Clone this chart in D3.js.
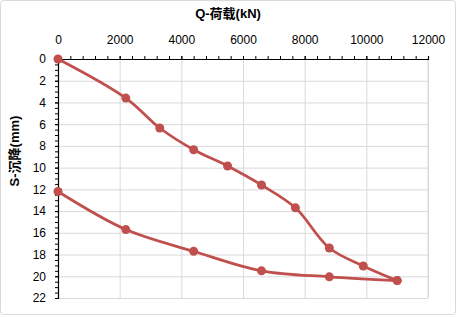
<!DOCTYPE html>
<html>
<head>
<meta charset="utf-8">
<script src="https://cdn.jsdelivr.net/npm/d3@7"></script>
<style>
  body { margin: 0; background: #fff; }
  text { font-family: "Liberation Sans", Arial, "Noto Sans CJK SC", sans-serif; }
  .grid line { stroke: #d9d9d9; stroke-width: 1; }
  .grid path { display: none; }
</style>
</head>
<body>
<div id="chart"></div>
<script>
// load / settlement data (loading and unloading branches)
var loadQ = [0, 2200, 3300, 4400, 5500, 6600, 7700, 8800, 9900, 11000];
var loadS = [0, 3.6, 6.35, 8.35, 9.85, 11.6, 13.7, 17.4, 19.05, 20.4];
var unloadQ = [11000, 8800, 6600, 4400, 2200, 0];
var unloadS = [20.4, 20.05, 19.5, 17.7, 15.7, 12.2];
var xTicks = [0, 2000, 4000, 6000, 8000, 10000, 12000];
var yTicks = [0, 2, 4, 6, 8, 10, 12, 14, 16, 18, 20, 22];

var w = 457, h = 317;
var padLeft = 58, padTop = 59, pw = 370, ph = 239;
var color = "#c0504d";

var xScale = d3.scaleLinear().domain([0, 12000]).range([padLeft, padLeft + pw]);
var yScale = d3.scaleLinear().domain([0, 22]).range([padTop, padTop + ph]);

var svg = d3.select("#chart").append("svg")
    .attr("width", w).attr("height", h);

// outer border
svg.append("rect")
    .attr("x", 0.5).attr("y", 0.5)
    .attr("width", w - 2).attr("height", h - 3)
    .attr("rx", 3)
    .attr("fill", "#fff")
    .attr("stroke", "#d9d9d9");

// gridlines
svg.append("g").attr("class", "grid")
    .attr("transform", "translate(0," + (padTop + ph) + ")")
    .call(d3.axisBottom(xScale).tickValues(xTicks).tickSize(-ph).tickFormat(""));
svg.append("g").attr("class", "grid")
    .attr("transform", "translate(" + (padLeft + pw) + ",0)")
    .call(d3.axisRight(yScale).tickValues(yTicks).tickSize(-pw).tickFormat(""));
svg.append("line")
    .attr("x1", padLeft + pw).attr("x2", padLeft + pw)
    .attr("y1", padTop).attr("y2", padTop + ph)
    .attr("stroke", "#d9d9d9");

// minor ticks
svg.append("g")
    .attr("transform", "translate(0," + padTop + ")")
    .call(d3.axisTop(xScale).tickValues(d3.range(0, 12001, 400)).tickSize(3).tickFormat(""))
    .call(function(g) { g.selectAll("line,path").attr("stroke", "#000"); });
svg.append("g")
    .attr("transform", "translate(" + padLeft + ",0)")
    .call(d3.axisLeft(yScale).tickValues(d3.range(0, 22.01, 0.5)).tickSize(3).tickFormat(""))
    .call(function(g) { g.selectAll("line,path").attr("stroke", "#000"); });

// x axis (top)
var xAxis = svg.append("g")
    .attr("transform", "translate(0," + padTop + ")")
    .call(d3.axisTop(xScale).tickValues(xTicks).tickSize(3).tickPadding(12).tickFormat(d3.format("d")));
xAxis.select(".domain").attr("stroke", "#000").attr("stroke-width", 1.2);
xAxis.selectAll("line").attr("stroke", "#000");
xAxis.selectAll("text").attr("font-size", 12).attr("fill", "#000")
    .style("font-family", "Liberation Sans, Arial, sans-serif");

// y axis (left)
var yAxis = svg.append("g")
    .attr("transform", "translate(" + padLeft + ",0)")
    .call(d3.axisLeft(yScale).tickValues(yTicks).tickSize(3).tickPadding(9));
yAxis.select(".domain").attr("stroke", "#000").attr("stroke-width", 1.2);
yAxis.selectAll("line").attr("stroke", "#000");
yAxis.selectAll("text").attr("font-size", 12).attr("fill", "#000")
    .style("font-family", "Liberation Sans, Arial, sans-serif");

// axis titles
svg.append("text")
    .attr("x", 228).attr("y", 18)
    .attr("text-anchor", "middle")
    .attr("font-size", 13).attr("font-weight", "bold")
    .text("Q-荷载(kN)");
svg.append("text")
    .attr("transform", "translate(19," + 151 + ") rotate(-90)")
    .attr("text-anchor", "middle")
    .attr("font-size", 13).attr("font-weight", "bold")
    .text("S-沉降(mm)");

// lines
var line = d3.line()
    .x(function(d) { return xScale(d[0]); })
    .y(function(d) { return yScale(d[1]); })
    .curve(d3.curveCatmullRom.alpha(0.5));

var loadData = loadQ.map(function(q, i) { return [q, loadS[i]]; });
var unloadData = unloadQ.map(function(q, i) { return [q, unloadS[i]]; });

[loadData, unloadData].forEach(function(data) {
    svg.append("path")
        .datum(data)
        .attr("fill", "none")
        .attr("stroke", color)
        .attr("stroke-width", 2.75)
        .attr("d", line);
    svg.selectAll(null)
        .data(data)
        .enter()
        .append("circle")
        .attr("cx", function(d) { return xScale(d[0]); })
        .attr("cy", function(d) { return yScale(d[1]); })
        .attr("r", 4.5)
        .attr("fill", color);
});
</script>
</body>
</html>
